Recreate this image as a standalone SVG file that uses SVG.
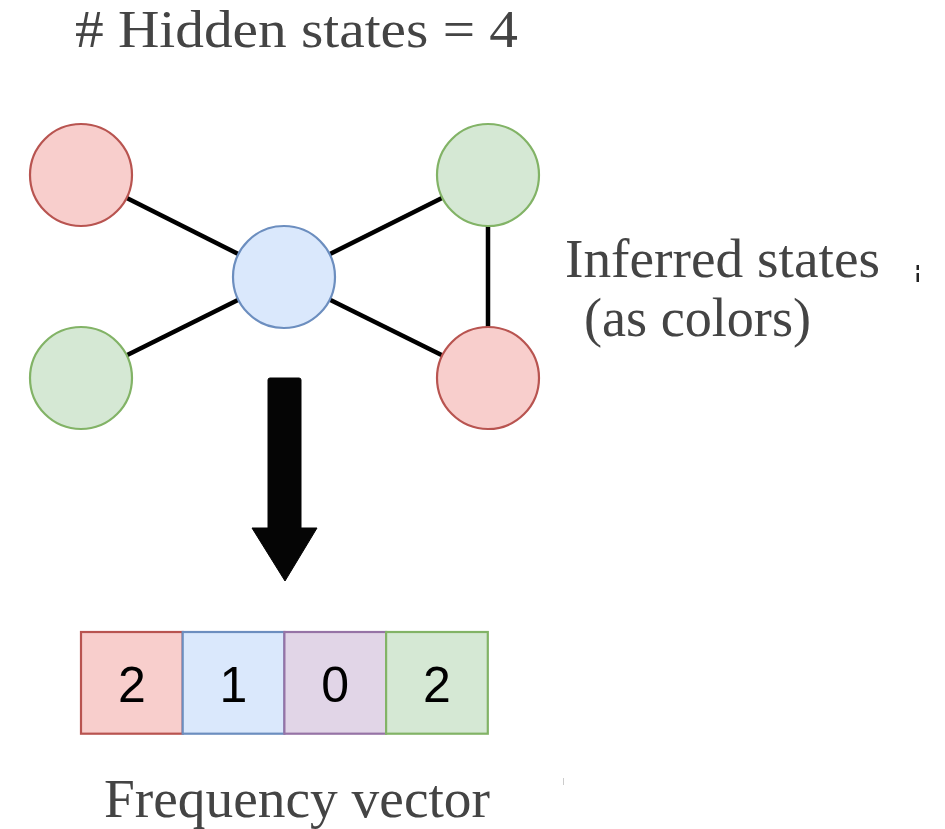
<svg xmlns="http://www.w3.org/2000/svg" width="945" height="829" viewBox="0 0 945 829">
<style>
.lbl{font-family:"Liberation Serif","Times New Roman",serif;fill:#444444;}
.num{font-family:"Liberation Sans",Arial,sans-serif;font-size:50px;fill:#000;text-anchor:middle;}
.edge{stroke:#000;stroke-width:4.5;fill:none;}
.red{fill:#f8cecc;stroke:#b85450;stroke-width:2.2;}
.blue{fill:#dae8fc;stroke:#6c8ebf;stroke-width:2.2;}
.green{fill:#d5e8d4;stroke:#82b366;stroke-width:2.2;}
.purple{fill:#e1d5e7;stroke:#9673a6;stroke-width:2.2;}
</style>
<rect width="945" height="829" fill="#ffffff"/>
<text class="lbl" x="75" y="47" font-size="52" textLength="443" lengthAdjust="spacingAndGlyphs">#  Hidden states = 4</text>
<g id="connectors">
<line class="edge" x1="81" y1="175" x2="284" y2="277"/>
<line class="edge" x1="81" y1="378" x2="284" y2="277"/>
<line class="edge" x1="284" y1="277" x2="488" y2="175"/>
<line class="edge" x1="284" y1="277" x2="488" y2="378"/>
<line class="edge" x1="488" y1="175" x2="488" y2="378"/>
</g>
<g id="node-tl"><circle class="red" cx="81" cy="175" r="51"/></g>
<g id="node-bl"><circle class="green" cx="81" cy="378" r="51"/></g>
<g id="node-center"><circle class="blue" cx="284" cy="277" r="51"/></g>
<g id="node-tr"><circle class="green" cx="488" cy="175" r="51"/></g>
<g id="node-br"><circle class="red" cx="488" cy="378" r="51"/></g>
<g id="big-arrow">
<path d="M270,378 L299,378 Q301,378 301,380 L301,528 L317,528 L285,581 L252,528 L268,528 L268,380 Q268,378 270,378 Z" fill="#050505" stroke="#050505" stroke-width="1" stroke-linejoin="round"/>
</g>
<g id="label-inferred">
<text class="lbl" x="565" y="277" font-size="54" textLength="315" lengthAdjust="spacingAndGlyphs">Inferred states</text>
<text class="lbl" x="584" y="336" font-size="54" textLength="227" lengthAdjust="spacingAndGlyphs">(as colors)</text>
</g>
<g id="vector">
<g id="cell-1"><rect class="red" x="81" y="632" width="101.7" height="101.7"/><text class="num" x="131.9" y="702">2</text></g>
<g id="cell-2"><rect class="blue" x="182.7" y="632" width="101.7" height="101.7"/><text class="num" x="233.5" y="702">1</text></g>
<g id="cell-3"><rect class="purple" x="284.4" y="632" width="101.7" height="101.7"/><text class="num" x="335.2" y="702">0</text></g>
<g id="cell-4"><rect class="green" x="386.1" y="632" width="101.7" height="101.7"/><text class="num" x="436.9" y="702">2</text></g>
</g>
<text class="lbl" x="104" y="817" font-size="54" textLength="386" lengthAdjust="spacingAndGlyphs">Frequency vector</text>
<rect x="916.5" y="265" width="2.5" height="5" fill="#222"/>
<rect x="916.5" y="273" width="2.5" height="9" fill="#222"/>
<rect x="563" y="778" width="1" height="7" fill="#cccccc"/>
</svg>
